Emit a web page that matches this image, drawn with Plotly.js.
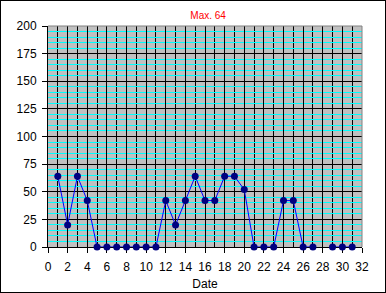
<!DOCTYPE html>
<html>
<head>
<meta charset="utf-8">
<script src="https://cdn.plot.ly/plotly-3.0.1.min.js"></script>
<style>
html,body{margin:0;padding:0;background:#fff;}
#chart{width:384px;height:291px;border:1px solid #000;}
</style>
</head>
<body>
<div id="chart"></div>
<script>
const dates = [1,2,3,4,5,6,7,8,9,10,11,12,13,14,15,16,17,18,19,20,21,22,23,24,25,26,27,28,29,30,31];
const values = [64,20,64,42,0,0,0,0,0,0,0,42,20,42,64,42,42,64,64,52,0,0,0,42,42,0,0,null,0,0,0];
const titleText = "Max. 64";
const xTitle = "Date";

const trace = {
  x: dates, y: values, type: 'scatter', mode: 'lines+markers',
  connectgaps: false, cliponaxis: false,
  line: {color: '#0000FF', width: 1},
  marker: {color: '#000080', size: 7, symbol: 'circle'},
  hoverinfo: 'skip'
};

const font = {family: 'Liberation Sans, Arial, sans-serif', size: 12, color: '#000'};

const layout = {
  width: 384, height: 291,
  margin: {l: 47, r: 23, t: 25, b: 45},
  paper_bgcolor: '#fff', plot_bgcolor: '#C0C0C0',
  showlegend: false,
  font: font,
  title: {text: titleText, font: {family: 'Liberation Sans, Arial, sans-serif', size: 10, color: '#FF0000'},
          x: 0.51, xanchor: 'center', y: 1 - 14/291, yanchor: 'middle', xref: 'paper'},
  xaxis: {
    range: [0, 32], tick0: 0, dtick: 2, ticks: 'outside', ticklen: 5, tickcolor: '#000',
    ticklabelstandoff: 4,
    showgrid: true, gridcolor: '#000', gridwidth: 1,
    minor: {dtick: 1, showgrid: true, gridcolor: '#000', gridwidth: 1},
    showline: true, linecolor: '#000', linewidth: 1, zeroline: false,
    layer: 'below traces', fixedrange: true,
    title: {text: xTitle, font: font, standoff: 6},
    tickfont: font
  },
  yaxis: {
    range: [0, 200], tick0: 0, dtick: 25, ticks: 'outside', ticklen: 5, tickcolor: '#000',
    ticklabelstandoff: 3,
    showgrid: true, gridcolor: '#000', gridwidth: 1,
    minor: {dtick: 5, showgrid: true, gridcolor: '#00FFFF', gridwidth: 1},
    showline: true, linecolor: '#000', linewidth: 1, zeroline: false,
    layer: 'below traces', fixedrange: true,
    tickfont: font
  },
  shapes: [
    {type: 'line', xref: 'paper', yref: 'paper', x0: 0, x1: 1, y0: 1, y1: 1, line: {color: '#808080', width: 1}, layer: 'above'},
    {type: 'line', xref: 'paper', yref: 'paper', x0: 1, x1: 1, y0: 0, y1: 1, line: {color: '#808080', width: 1}, layer: 'above'}
  ]
};

Plotly.newPlot('chart', [trace], layout, {displayModeBar: false, staticPlot: true});
</script>
</body>
</html>
